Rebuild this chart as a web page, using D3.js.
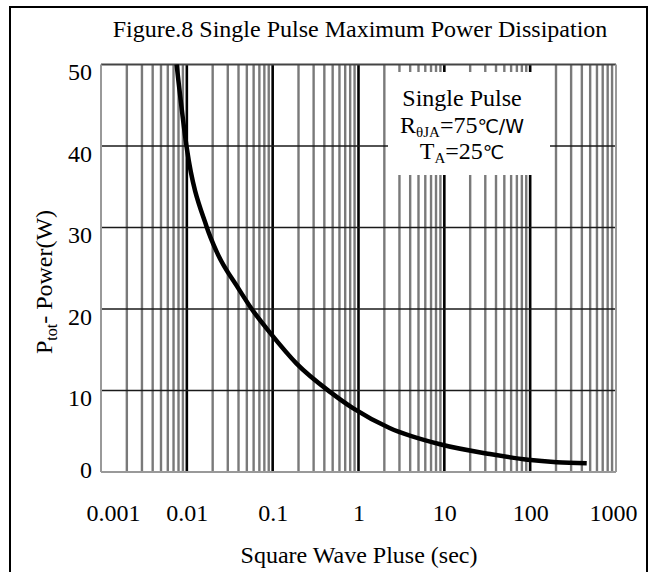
<!DOCTYPE html>
<html><head><meta charset="utf-8">
<script src="https://cdn.jsdelivr.net/npm/d3@7"></script>
<style>body{margin:0;background:#fff} svg{display:block}</style>
</head><body>
<svg id="c" width="656" height="572"></svg>
<script>
// ---- data ----
const pulseWidth = [0.0076, 0.01, 0.017, 0.0223, 0.04, 0.057, 0.093, 0.19, 0.47, 0.87, 2.3, 8.9, 34, 94, 204, 456];
const power      = [50, 39.7, 30.1, 27.0, 22.5, 20.0, 17.1, 13.3, 9.8, 7.8, 5.4, 3.4, 2.2, 1.5, 1.2, 1.07];
const xTickValues = [0.001, 0.01, 0.1, 1, 10, 100, 1000];
const xTickLabels = ["0.001", "0.01", "0.1", "1", "10", "100", "1000"];
const yTickValues = [0, 10, 20, 30, 40, 50];
const yTickLabels = ["0", "10", "20", "30", "40", "50"];
const titleText = "Figure.8 Single Pulse Maximum Power Dissipation";
const xAxisTitle = "Square Wave Pluse (sec)";

const SERIF = "'Liberation Serif','Times New Roman',serif";
const FS = 24;
const svg = d3.select("#c");
const x = d3.scaleLog().domain([0.001, 1000]).range([101, 616]);
const y = d3.scaleLinear().domain([0, 50]).range([472, 64.5]);

// outer frame
svg.append("rect").attr("x", 10).attr("y", 7).attr("width", 637).attr("height", 620)
  .attr("fill", "none").attr("stroke", "#000").attr("stroke-width", 2);

const g = svg.append("g");
const decades = xTickValues;
const minor = x.ticks().filter(v => !decades.some(d => Math.abs(d - v) / d < 1e-9));

// minor vertical grid
g.selectAll(".vmin").data(minor).join("line")
  .attr("x1", d => x(d)).attr("x2", d => x(d))
  .attr("y1", y(50)).attr("y2", y(0))
  .attr("stroke", "#7a7a7a").attr("stroke-width", 2.4);

// decade vertical grid (interior)
g.selectAll(".vmaj").data(decades.slice(1, -1)).join("line")
  .attr("x1", d => x(d)).attr("x2", d => x(d))
  .attr("y1", y(50)).attr("y2", y(0))
  .attr("stroke", "#000").attr("stroke-width", 2.6);

// horizontal grid
g.selectAll(".h").data(yTickValues.slice(1, -1)).join("line")
  .attr("x1", x(0.001)).attr("x2", x(1000))
  .attr("y1", d => y(d)).attr("y2", d => y(d))
  .attr("stroke", "#1a1a1a").attr("stroke-width", 1.6);

// plot frame
g.append("line").attr("x1", x(0.001)).attr("x2", x(1000)).attr("y1", y(50)).attr("y2", y(50))
  .attr("stroke", "#444").attr("stroke-width", 2);
g.append("line").attr("x1", x(0.001)).attr("x2", x(1000)).attr("y1", y(0)).attr("y2", y(0))
  .attr("stroke", "#999").attr("stroke-width", 2);
[0.001, 1000].forEach(v => g.append("line").attr("x1", x(v)).attr("x2", x(v))
  .attr("y1", y(50)).attr("y2", y(0)).attr("stroke", "#999").attr("stroke-width", 2));

// annotation box
svg.append("rect").attr("x", 388).attr("y", 72).attr("width", 162).attr("height", 103).attr("fill", "#fff");

// curve
const pts = pulseWidth.map((v, i) => [v, power[i]]);
svg.append("path").datum(pts)
  .attr("d", d3.line().x(d => x(d[0])).y(d => y(d[1])).curve(d3.curveMonotoneX))
  .attr("fill", "none").attr("stroke", "#000").attr("stroke-width", 4.5);

// y axis labels
const ya = svg.append("g").attr("transform", `translate(${x(0.001)},0)`)
  .call(d3.axisLeft(y).tickValues(yTickValues).tickSize(0).tickPadding(9)
    .tickFormat((d, i) => yTickLabels[i]));
ya.select(".domain").remove();
ya.selectAll("text").attr("font-family", SERIF).attr("font-size", FS).attr("fill", "#000")
  .attr("dy", d => d === 0 ? "0.22em" : "0.64em");

// x axis labels
const xa = svg.append("g").attr("transform", `translate(0,${y(0)})`)
  .call(d3.axisBottom(x).tickValues(xTickValues).tickSize(0)
    .tickFormat((d, i) => xTickLabels[i]));
xa.select(".domain").remove();
xa.selectAll("text").attr("font-family", SERIF).attr("font-size", FS).attr("fill", "#000")
  .attr("y", 49).attr("dy", 0).attr("dx", (d, i) => i === 0 ? 12 : (i === 6 ? -3 : 0));

// titles
svg.append("text").attr("x", 360).attr("y", 37).attr("text-anchor", "middle")
  .attr("font-family", SERIF).attr("font-size", FS).text(titleText);
svg.append("text").attr("x", 359).attr("y", 563).attr("text-anchor", "middle")
  .attr("font-family", SERIF).attr("font-size", FS).text(xAxisTitle);

const yt = svg.append("text").attr("transform", "translate(52,282) rotate(-90)")
  .attr("text-anchor", "middle").attr("font-family", SERIF).attr("font-size", FS);
yt.append("tspan").text("P");
yt.append("tspan").attr("font-size", 16).attr("dy", 5).text("tot");
yt.append("tspan").attr("dy", -5).text("- Power(W)");

// annotation text
const SANS = "'DejaVu Sans','Noto Sans CJK SC',sans-serif";
const ann = svg.append("g").attr("font-family", SERIF).attr("font-size", FS).attr("text-anchor", "middle");
ann.append("text").attr("x", 462).attr("y", 106).text("Single Pulse");
const r = ann.append("text").attr("x", 462).attr("y", 133);
r.append("tspan").text("R");
r.append("tspan").attr("font-size", 15).attr("dy", 4).text("θJA");
r.append("tspan").attr("dy", -4).text("=75");
r.append("tspan").attr("font-family", SANS).attr("font-size", 19).text("℃/W");
const t = ann.append("text").attr("x", 462).attr("y", 159);
t.append("tspan").text("T");
t.append("tspan").attr("font-size", 15).attr("dy", 4).text("A");
t.append("tspan").attr("dy", -4).text("=25");
t.append("tspan").attr("font-family", SANS).attr("font-size", 19).text("℃");
</script>
</body></html>
